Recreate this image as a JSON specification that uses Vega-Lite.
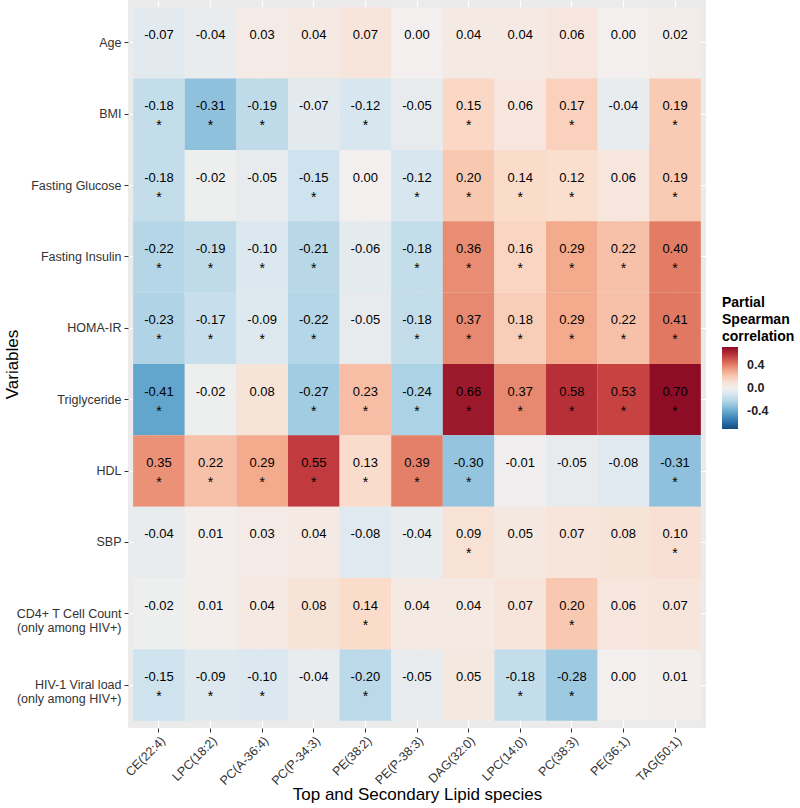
{
  "$schema": "https://vega.github.io/schema/vega-lite/v6.json",
  "width": 578,
  "height": 728,
  "autosize": {"type": "none"},
  "padding": {"left": 128, "top": 0, "right": 94, "bottom": 80},
  "background": "white",
  "config": {
    "font": "Liberation Sans",
    "view": {"fill": "#EBEBEB", "stroke": null},
    "locale": {"number": {"decimal": ".", "thousands": ",", "grouping": [3], "currency": ["$", ""], "minus": "-"}}
  },
  "data": {"values": [
    {"v":"Age","l":"CE(22:4)","r":-0.07,"s":false},
    {"v":"Age","l":"LPC(18:2)","r":-0.04,"s":false},
    {"v":"Age","l":"PC(A-36:4)","r":0.03,"s":false},
    {"v":"Age","l":"PC(P-34:3)","r":0.04,"s":false},
    {"v":"Age","l":"PE(38:2)","r":0.07,"s":false},
    {"v":"Age","l":"PE(P-38:3)","r":0.00,"s":false},
    {"v":"Age","l":"DAG(32:0)","r":0.04,"s":false},
    {"v":"Age","l":"LPC(14:0)","r":0.04,"s":false},
    {"v":"Age","l":"PC(38:3)","r":0.06,"s":false},
    {"v":"Age","l":"PE(36:1)","r":0.00,"s":false},
    {"v":"Age","l":"TAG(50:1)","r":0.02,"s":false},

    {"v":"BMI","l":"CE(22:4)","r":-0.18,"s":true},
    {"v":"BMI","l":"LPC(18:2)","r":-0.31,"s":true},
    {"v":"BMI","l":"PC(A-36:4)","r":-0.19,"s":true},
    {"v":"BMI","l":"PC(P-34:3)","r":-0.07,"s":false},
    {"v":"BMI","l":"PE(38:2)","r":-0.12,"s":true},
    {"v":"BMI","l":"PE(P-38:3)","r":-0.05,"s":false},
    {"v":"BMI","l":"DAG(32:0)","r":0.15,"s":true},
    {"v":"BMI","l":"LPC(14:0)","r":0.06,"s":false},
    {"v":"BMI","l":"PC(38:3)","r":0.17,"s":true},
    {"v":"BMI","l":"PE(36:1)","r":-0.04,"s":false},
    {"v":"BMI","l":"TAG(50:1)","r":0.19,"s":true},

    {"v":"Fasting Glucose","l":"CE(22:4)","r":-0.18,"s":true},
    {"v":"Fasting Glucose","l":"LPC(18:2)","r":-0.02,"s":false},
    {"v":"Fasting Glucose","l":"PC(A-36:4)","r":-0.05,"s":false},
    {"v":"Fasting Glucose","l":"PC(P-34:3)","r":-0.15,"s":true},
    {"v":"Fasting Glucose","l":"PE(38:2)","r":0.00,"s":false},
    {"v":"Fasting Glucose","l":"PE(P-38:3)","r":-0.12,"s":true},
    {"v":"Fasting Glucose","l":"DAG(32:0)","r":0.20,"s":true},
    {"v":"Fasting Glucose","l":"LPC(14:0)","r":0.14,"s":true},
    {"v":"Fasting Glucose","l":"PC(38:3)","r":0.12,"s":true},
    {"v":"Fasting Glucose","l":"PE(36:1)","r":0.06,"s":false},
    {"v":"Fasting Glucose","l":"TAG(50:1)","r":0.19,"s":true},

    {"v":"Fasting Insulin","l":"CE(22:4)","r":-0.22,"s":true},
    {"v":"Fasting Insulin","l":"LPC(18:2)","r":-0.19,"s":true},
    {"v":"Fasting Insulin","l":"PC(A-36:4)","r":-0.10,"s":true},
    {"v":"Fasting Insulin","l":"PC(P-34:3)","r":-0.21,"s":true},
    {"v":"Fasting Insulin","l":"PE(38:2)","r":-0.06,"s":false},
    {"v":"Fasting Insulin","l":"PE(P-38:3)","r":-0.18,"s":true},
    {"v":"Fasting Insulin","l":"DAG(32:0)","r":0.36,"s":true},
    {"v":"Fasting Insulin","l":"LPC(14:0)","r":0.16,"s":true},
    {"v":"Fasting Insulin","l":"PC(38:3)","r":0.29,"s":true},
    {"v":"Fasting Insulin","l":"PE(36:1)","r":0.22,"s":true},
    {"v":"Fasting Insulin","l":"TAG(50:1)","r":0.40,"s":true},

    {"v":"HOMA-IR","l":"CE(22:4)","r":-0.23,"s":true},
    {"v":"HOMA-IR","l":"LPC(18:2)","r":-0.17,"s":true},
    {"v":"HOMA-IR","l":"PC(A-36:4)","r":-0.09,"s":true},
    {"v":"HOMA-IR","l":"PC(P-34:3)","r":-0.22,"s":true},
    {"v":"HOMA-IR","l":"PE(38:2)","r":-0.05,"s":false},
    {"v":"HOMA-IR","l":"PE(P-38:3)","r":-0.18,"s":true},
    {"v":"HOMA-IR","l":"DAG(32:0)","r":0.37,"s":true},
    {"v":"HOMA-IR","l":"LPC(14:0)","r":0.18,"s":true},
    {"v":"HOMA-IR","l":"PC(38:3)","r":0.29,"s":true},
    {"v":"HOMA-IR","l":"PE(36:1)","r":0.22,"s":true},
    {"v":"HOMA-IR","l":"TAG(50:1)","r":0.41,"s":true},

    {"v":"Triglyceride","l":"CE(22:4)","r":-0.41,"s":true},
    {"v":"Triglyceride","l":"LPC(18:2)","r":-0.02,"s":false},
    {"v":"Triglyceride","l":"PC(A-36:4)","r":0.08,"s":false},
    {"v":"Triglyceride","l":"PC(P-34:3)","r":-0.27,"s":true},
    {"v":"Triglyceride","l":"PE(38:2)","r":0.23,"s":true},
    {"v":"Triglyceride","l":"PE(P-38:3)","r":-0.24,"s":true},
    {"v":"Triglyceride","l":"DAG(32:0)","r":0.66,"s":true},
    {"v":"Triglyceride","l":"LPC(14:0)","r":0.37,"s":true},
    {"v":"Triglyceride","l":"PC(38:3)","r":0.58,"s":true},
    {"v":"Triglyceride","l":"PE(36:1)","r":0.53,"s":true},
    {"v":"Triglyceride","l":"TAG(50:1)","r":0.70,"s":true},

    {"v":"HDL","l":"CE(22:4)","r":0.35,"s":true},
    {"v":"HDL","l":"LPC(18:2)","r":0.22,"s":true},
    {"v":"HDL","l":"PC(A-36:4)","r":0.29,"s":true},
    {"v":"HDL","l":"PC(P-34:3)","r":0.55,"s":true},
    {"v":"HDL","l":"PE(38:2)","r":0.13,"s":true},
    {"v":"HDL","l":"PE(P-38:3)","r":0.39,"s":true},
    {"v":"HDL","l":"DAG(32:0)","r":-0.30,"s":true},
    {"v":"HDL","l":"LPC(14:0)","r":-0.01,"s":false},
    {"v":"HDL","l":"PC(38:3)","r":-0.05,"s":false},
    {"v":"HDL","l":"PE(36:1)","r":-0.08,"s":false},
    {"v":"HDL","l":"TAG(50:1)","r":-0.31,"s":true},

    {"v":"SBP","l":"CE(22:4)","r":-0.04,"s":false},
    {"v":"SBP","l":"LPC(18:2)","r":0.01,"s":false},
    {"v":"SBP","l":"PC(A-36:4)","r":0.03,"s":false},
    {"v":"SBP","l":"PC(P-34:3)","r":0.04,"s":false},
    {"v":"SBP","l":"PE(38:2)","r":-0.08,"s":false},
    {"v":"SBP","l":"PE(P-38:3)","r":-0.04,"s":false},
    {"v":"SBP","l":"DAG(32:0)","r":0.09,"s":true},
    {"v":"SBP","l":"LPC(14:0)","r":0.05,"s":false},
    {"v":"SBP","l":"PC(38:3)","r":0.07,"s":false},
    {"v":"SBP","l":"PE(36:1)","r":0.08,"s":false},
    {"v":"SBP","l":"TAG(50:1)","r":0.10,"s":true},

    {"v":"CD4+ T Cell Count|(only among HIV+)","l":"CE(22:4)","r":-0.02,"s":false},
    {"v":"CD4+ T Cell Count|(only among HIV+)","l":"LPC(18:2)","r":0.01,"s":false},
    {"v":"CD4+ T Cell Count|(only among HIV+)","l":"PC(A-36:4)","r":0.04,"s":false},
    {"v":"CD4+ T Cell Count|(only among HIV+)","l":"PC(P-34:3)","r":0.08,"s":false},
    {"v":"CD4+ T Cell Count|(only among HIV+)","l":"PE(38:2)","r":0.14,"s":true},
    {"v":"CD4+ T Cell Count|(only among HIV+)","l":"PE(P-38:3)","r":0.04,"s":false},
    {"v":"CD4+ T Cell Count|(only among HIV+)","l":"DAG(32:0)","r":0.04,"s":false},
    {"v":"CD4+ T Cell Count|(only among HIV+)","l":"LPC(14:0)","r":0.07,"s":false},
    {"v":"CD4+ T Cell Count|(only among HIV+)","l":"PC(38:3)","r":0.20,"s":true},
    {"v":"CD4+ T Cell Count|(only among HIV+)","l":"PE(36:1)","r":0.06,"s":false},
    {"v":"CD4+ T Cell Count|(only among HIV+)","l":"TAG(50:1)","r":0.07,"s":false},

    {"v":"HIV-1 Viral load|(only among HIV+)","l":"CE(22:4)","r":-0.15,"s":true},
    {"v":"HIV-1 Viral load|(only among HIV+)","l":"LPC(18:2)","r":-0.09,"s":true},
    {"v":"HIV-1 Viral load|(only among HIV+)","l":"PC(A-36:4)","r":-0.10,"s":true},
    {"v":"HIV-1 Viral load|(only among HIV+)","l":"PC(P-34:3)","r":-0.04,"s":false},
    {"v":"HIV-1 Viral load|(only among HIV+)","l":"PE(38:2)","r":-0.20,"s":true},
    {"v":"HIV-1 Viral load|(only among HIV+)","l":"PE(P-38:3)","r":-0.05,"s":false},
    {"v":"HIV-1 Viral load|(only among HIV+)","l":"DAG(32:0)","r":0.05,"s":false},
    {"v":"HIV-1 Viral load|(only among HIV+)","l":"LPC(14:0)","r":-0.18,"s":true},
    {"v":"HIV-1 Viral load|(only among HIV+)","l":"PC(38:3)","r":-0.28,"s":true},
    {"v":"HIV-1 Viral load|(only among HIV+)","l":"PE(36:1)","r":0.00,"s":false},
    {"v":"HIV-1 Viral load|(only among HIV+)","l":"TAG(50:1)","r":0.01,"s":false}
  ]},
  "encoding": {
    "x": {
      "field": "l", "type": "nominal", "sort": null,
      "scale": {"paddingInner": 0, "paddingOuter": 0.1},
      "axis": {
        "title": "Top and Secondary Lipid species",
        "titleFontSize": 17, "titleFontWeight": "normal", "titleColor": "#000000",
        "titleX": 289, "titleY": 66, "titleBaseline": "middle", "titleAlign": "center",
        "labelAngle": -45, "labelAlign": "right", "labelBaseline": "top",
        "labelFontSize": 12.5, "labelColor": "#333333", "labelPadding": 2,
        "domain": false, "ticks": true, "tickColor": "#333333", "tickSize": 4,
        "grid": true, "gridColor": "#FFFFFF", "gridWidth": 1.2, "bandPosition": 0.5,
        "zindex": 0
      }
    },
    "y": {
      "field": "v", "type": "nominal", "sort": null,
      "scale": {"paddingInner": 0, "paddingOuter": 0.1},
      "axis": {
        "title": "Variables",
        "titleFontSize": 17, "titleFontWeight": "normal", "titleColor": "#000000",
        "titleX": -116, "titleY": 364, "titleAngle": -90, "titleBaseline": "middle", "titleAlign": "center",
        "labelExpr": "split(datum.label, '|')",
        "labelFontSize": 12.5, "labelColor": "#333333", "labelPadding": 3, "labelLineHeight": 14,
        "domain": false, "ticks": true, "tickColor": "#333333", "tickSize": 4,
        "grid": true, "gridColor": "#FFFFFF", "gridWidth": 1.2, "bandPosition": 0.5,
        "zindex": 0
      }
    }
  },
  "layer": [
    {
      "mark": {"type": "rect", "opacity": 1, "zindex": 1},
      "encoding": {
        "color": {
          "field": "r", "type": "quantitative",
          "scale": {"scheme": "redblue", "reverse": true, "domain": [-0.7, 0.7]},
          "legend": {
            "title": ["Partial", "Spearman", "correlation"],
            "titleFontSize": 14, "titleFontWeight": "bold", "titleColor": "#000000", "titleLineHeight": 17,
            "titlePadding": 3,
            "gradientLength": 82, "gradientThickness": 16,
            "values": [-0.4, 0, 0.4], "format": ".1f",
            "labelFontSize": 12.5, "labelFontWeight": "bold", "labelColor": "#222222", "labelOffset": 9,
            "orient": "none", "legendX": 594, "legendY": 296,
            "direction": "vertical"
          }
        }
      }
    },
    {
      "mark": {"type": "text", "fontSize": 13, "color": "#000000", "dy": -8, "zindex": 2},
      "encoding": {"text": {"field": "r", "type": "quantitative", "format": ".2f"}}
    },
    {
      "transform": [{"filter": "datum.s"}],
      "mark": {"type": "text", "fontSize": 14, "color": "#000000", "dy": 12, "text": "*", "zindex": 2},
      "encoding": {}
    }
  ]
}
